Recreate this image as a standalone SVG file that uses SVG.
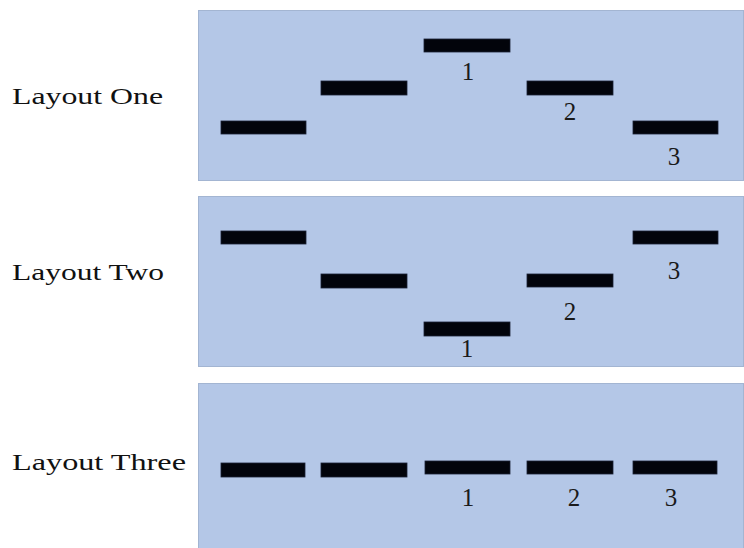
<svg xmlns="http://www.w3.org/2000/svg" width="744" height="548" viewBox="0 0 744 548">
<style>
.panel{fill:#B4C7E7;stroke:#A3B5D2;stroke-width:1}
.bar{fill:#02040B;stroke:#1A2236;stroke-width:0.8}
.lbl{font-family:"Liberation Serif","Times New Roman",serif;font-size:24px;fill:#111}
.num{font-family:"Liberation Serif","Times New Roman",serif;font-size:25px;fill:#1a1a1a;text-anchor:middle}
</style>
<rect width="744" height="548" fill="#FFFFFF"/>
<g id="layout-one">
<rect class="panel" x="198.5" y="10.5" width="545" height="170"/>
<text class="lbl" x="12" y="104" textLength="151" lengthAdjust="spacingAndGlyphs">Layout One</text>
<rect class="bar" x="221" y="121" width="85" height="13"/>
<rect class="bar" x="321" y="81" width="86" height="14"/>
<rect class="bar" x="424" y="39" width="86" height="13"/>
<rect class="bar" x="527" y="81" width="86" height="14"/>
<rect class="bar" x="633" y="121" width="85" height="13"/>
<text class="num" x="468" y="80">1</text>
<text class="num" x="570" y="120">2</text>
<text class="num" x="674" y="165">3</text>
</g>
<g id="layout-two">
<rect class="panel" x="198.5" y="196.5" width="545" height="170"/>
<text class="lbl" x="12" y="280" textLength="152" lengthAdjust="spacingAndGlyphs">Layout Two</text>
<rect class="bar" x="221" y="231" width="85" height="13"/>
<rect class="bar" x="321" y="274" width="86" height="14"/>
<rect class="bar" x="424" y="322" width="86" height="14"/>
<rect class="bar" x="527" y="274" width="86" height="13"/>
<rect class="bar" x="633" y="231" width="85" height="13"/>
<text class="num" x="467" y="357">1</text>
<text class="num" x="570" y="320">2</text>
<text class="num" x="674" y="279">3</text>
</g>
<g id="layout-three">
<rect class="panel" x="198.5" y="383.5" width="545" height="170"/>
<text class="lbl" x="12" y="470" textLength="174" lengthAdjust="spacingAndGlyphs">Layout Three</text>
<rect class="bar" x="221" y="463" width="84" height="14"/>
<rect class="bar" x="321" y="463" width="86" height="14"/>
<rect class="bar" x="425" y="461" width="85" height="13"/>
<rect class="bar" x="527" y="461" width="86" height="13"/>
<rect class="bar" x="633" y="461" width="84" height="13"/>
<text class="num" x="468" y="506">1</text>
<text class="num" x="574" y="506">2</text>
<text class="num" x="671" y="506">3</text>
</g>
<g id="connectors"/>
</svg>
